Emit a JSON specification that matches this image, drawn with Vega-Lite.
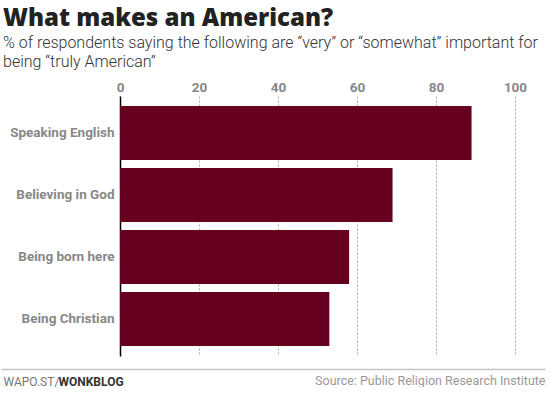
{
  "$schema": "https://vega.github.io/schema/vega-lite/v6.json",
  "padding": {"left": 3, "right": 3, "top": 6, "bottom": 0},
  "background": "white",
  "width": 395,
  "height": 260,
  "title": {
    "text": "What makes an American?",
    "subtitle": ["% of respondents saying the following are “very” or “somewhat” important for", "being “truly American”"],
    "anchor": "start",
    "frame": "bounds",
    "font": "Open Sans",
    "fontSize": 24,
    "fontWeight": 800,
    "color": "#222222",
    "subtitleFont": "Roboto",
    "subtitleFontSize": 16,
    "subtitleFontWeight": 300,
    "subtitleColor": "#333333",
    "subtitleLineHeight": 18.5,
    "subtitlePadding": 4.5,
    "offset": 10.5
  },
  "data": {"values": [
    {"item": "Speaking English", "pct": 89},
    {"item": "Believing in God", "pct": 69},
    {"item": "Being born here", "pct": 58},
    {"item": "Being Christian", "pct": 53}
  ]},
  "layer": [
    {
      "mark": {"type": "bar", "color": "#65001f"},
      "encoding": {
        "y": {
          "field": "item", "type": "nominal", "sort": null,
          "scale": {"paddingInner": 0.13, "paddingOuter": 0.16},
          "axis": {
            "orient": "left",
            "title": "WAPO.ST/",
            "titleAngle": 0,
            "titleAlign": "left",
            "titleBaseline": "top",
            "titleX": -117,
            "titleY": 280,
            "titleFont": "Roboto",
            "titleFontSize": 12,
            "titleFontWeight": "normal",
            "titleColor": "#777777",
            "labelFont": "Roboto",
            "labelFontSize": 13.5,
            "labelFontWeight": "bold",
            "labelColor": "#888888",
            "labelPadding": 6,
            "ticks": false,
            "domain": true,
            "domainColor": "#000000",
            "domainWidth": 1.5,
            "grid": false
          }
        },
        "x": {
          "field": "pct", "type": "quantitative",
          "scale": {"domain": [0, 100]},
          "axis": {
            "orient": "top",
            "title": null,
            "values": [0, 20, 40, 60, 80, 100],
            "labelFlush": false,
            "labelFont": "Roboto",
            "labelFontSize": 13.5,
            "labelFontWeight": "bold",
            "labelColor": "#888888",
            "labelPadding": 2,
            "ticks": false,
            "domain": false,
            "grid": true,
            "gridColor": "#aaaaaa",
            "gridDash": [2, 2],
            "gridWidth": 1
          }
        }
      }
    },
    {
      "mark": {"type": "point", "opacity": 0},
      "encoding": {
        "y": {
          "field": "item", "type": "nominal", "sort": null,
          "axis": {
            "orient": "left",
            "title": "WONKBLOG",
            "titleAngle": 0,
            "titleAlign": "left",
            "titleBaseline": "top",
            "titleX": -62,
            "titleY": 280,
            "titleFont": "Roboto",
            "titleFontSize": 12,
            "titleFontWeight": "bold",
            "titleColor": "#333333",
            "labels": false,
            "ticks": false,
            "domain": false,
            "grid": false
          }
        },
        "x": {
          "field": "pct", "type": "quantitative",
          "scale": {"domain": [0, 100], "range": [-119, 425]},
          "axis": {
            "orient": "bottom",
            "offset": 13,
            "title": "Source: Public Religion Research Institute",
            "titleAnchor": "end",
            "titleAlign": "right",
            "titleBaseline": "top",
            "titlePadding": 5,
            "titleFont": "Roboto",
            "titleFontSize": 12.5,
            "titleFontWeight": "normal",
            "titleColor": "#999999",
            "labels": false,
            "ticks": false,
            "grid": false,
            "domain": true,
            "domainColor": "#c4c4c4",
            "domainWidth": 1.5
          }
        }
      }
    }
  ],
  "resolve": {"scale": {"x": "independent"}, "axis": {"x": "independent", "y": "independent"}},
  "config": {"view": {"stroke": null}, "font": "Roboto"}
}
